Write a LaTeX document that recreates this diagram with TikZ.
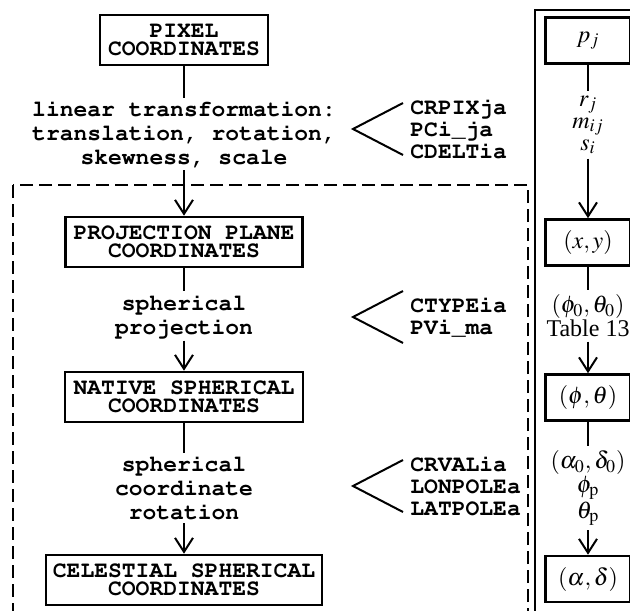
\documentclass[tikz,border=0pt]{standalone}
\usepackage{mathptmx}
\usepackage[T1]{fontenc}
\usepackage[no-math]{fontspec}
\setmainfont{Liberation Serif}
\newcommand{\courb}{\fontencoding{T1}\fontfamily{pcr}\fontseries{b}\fontshape{n}}
\usetikzlibrary{arrows.meta}
\begin{document}
\begin{tikzpicture}[x=0.5pt,y=-0.5pt,
  box/.style={draw,line width=1.3pt,inner sep=0pt,minimum height=25pt,align=center,
    font={\courb\fontsize{11.5}{9}\selectfont}},
  lab/.style={inner sep=1.5pt,align=center,font={\courb\fontsize{11.5}{12}\selectfont}},
  plist/.style={inner sep=1pt,align=left,anchor=west,font={\courb\fontsize{11.5}{11}\selectfont}},
  mbox/.style={draw,line width=1.3pt,minimum width=42.5pt,minimum height=23pt,inner sep=0pt,
    font={\fontsize{12}{11}\selectfont}},
  mlab/.style={inner xsep=1pt,inner ysep=2pt,align=center,font={\fontsize{12}{12}\selectfont}},
  conn/.style={line width=1pt},
  arr/.style={line width=1pt,-{Straight Barb[length=7pt,width=9pt,line width=1pt]}},
  brk/.style={line width=1pt}]
\useasboundingbox (0,0) rectangle (630,610);
% dashed frame
\draw[line width=0.7pt,dash pattern=on 6.5pt off 3pt] (13,185) rectangle (528,630);
% left flow
\node[box,minimum width=84pt] (pix) at (184,40) {PIXEL\\COORDINATES};
\node[lab] (l1) at (184,134) {linear transformation:\\translation, rotation,\\skewness, scale};
\node[box,minimum width=118.5pt] (proj) at (184,242) {PROJECTION PLANE\\COORDINATES};
\node[lab] (l2) at (184,316) {spherical\\projection};
\node[box,minimum width=119pt] (nat) at (184,397) {NATIVE SPHERICAL\\COORDINATES};
\node[lab] (l3) at (184,488) {spherical\\coordinate\\rotation};
\node[box,minimum width=138pt] (cel) at (184,580) {CELESTIAL SPHERICAL\\COORDINATES};
\draw[conn] (pix) -- (l1);
\draw[arr] (l1) -- (proj);
\draw[conn] (proj) -- (l2);
\draw[arr] (l2) -- (nat);
\draw[conn] (nat) -- (l3);
\draw[arr] (l3) -- (cel);
% parameter lists
\node[plist] (p1) at (408,129) {CRPIXja\\PCi\_ja\\CDELTia};
\node[plist] (p2) at (408,317) {CTYPEia\\PVi\_ma};
\node[plist] (p3) at (408,486) {CRVALia\\LONPOLEa\\LATPOLEa};
\foreach \p in {p1,p2,p3}{
  \draw[brk] ([shift={(-5,-26)}]\p.west) -- ([shift={(-55,0)}]\p.west) -- ([shift={(-5,26)}]\p.west);
}
% right panel
\draw[line width=0.6pt] (535,10) rectangle (660,640);
\node[mbox] (pj) at (588,40.5) {$p_j$};
\node[mlab] (rl) at (588,125) {$r_j$\\[-1pt]$m_{ij}$\\[-1pt]$s_i$};
\node[mbox] (xy) at (588,242.5) {$(x,y)$};
\node[mlab] (tl) at (588,316) {$(\phi_0,\theta_0)$\\Table 13};
\node[mbox] (pt) at (588,397.5) {$(\phi,\theta)$};
\node[mlab] (al) at (588,488) {$(\alpha_0,\delta_0)$\\$\phi_{\mathrm{p}}$\\$\theta_{\mathrm{p}}$};
\node[mbox] (ad) at (588,579) {$(\alpha,\delta)$};
\draw[conn] (pj) -- (rl);
\draw[arr] (rl) -- (xy);
\draw[conn] (xy) -- (tl);
\draw[arr] (tl) -- (pt);
\draw[conn] (pt) -- (al);
\draw[arr] (al) -- (ad);
\end{tikzpicture}
\end{document}
